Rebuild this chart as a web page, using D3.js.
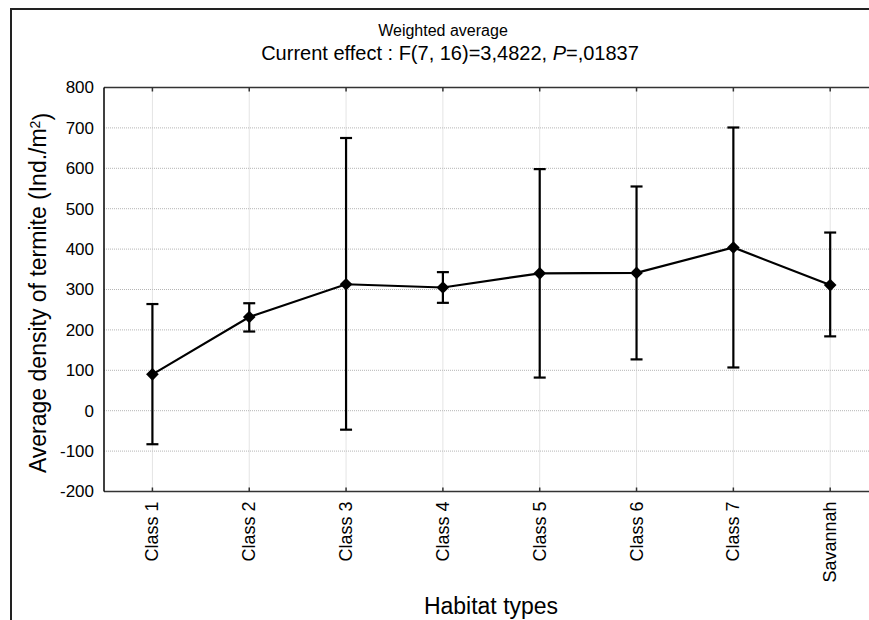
<!DOCTYPE html>
<html>
<head>
<meta charset="utf-8">
<script src="https://cdn.jsdelivr.net/npm/d3@7"></script>
<style>
  body { margin: 0; background: #fff; }
  svg { display: block; font-family: Arial, "Liberation Sans", sans-serif; }
</style>
</head>
<body>
<svg width="869" height="620"></svg>
<script>
// habitat classes on x axis
const categories = ["Class 1", "Class 2", "Class 3", "Class 4", "Class 5", "Class 6", "Class 7", "Savannah"];
// weighted means and the ends of the whiskers (Ind./m2)
const means = [90, 232, 313, 305, 340, 341, 404, 311];
const upper = [264, 266, 675, 343, 598, 555, 701, 441];
const lower = [-83, 196, -47, 267, 82, 127, 107, 184];
const yTicks = [-200, -100, 0, 100, 200, 300, 400, 500, 600, 700, 800];

const data = categories.map((c, i) => ({ cat: c, mean: means[i], hi: upper[i], lo: lower[i] }));

const svg = d3.select("svg"),
  margin = { top: 87.5, left: 104, bottom: 491.5, right: 878.6 };

// outer frame, runs off the bottom and right of the picture
svg.append("rect")
  .attr("x", 11).attr("y", 9)
  .attr("width", 900).attr("height", 700)
  .attr("fill", "none").attr("stroke", "#222").attr("stroke-width", 2);

const x = d3.scalePoint().domain(categories).range([margin.left, margin.right]).padding(0.5);
const y = d3.scaleLinear().domain([-200, 800]).range([margin.bottom, margin.top]);

// dotted grid
svg.append("g").selectAll("line")
  .data(yTicks.slice(1, -1))
  .join("line")
  .attr("x1", margin.left).attr("x2", margin.right)
  .attr("y1", d => y(d)).attr("y2", d => y(d))
  .attr("stroke", "#b5b5b5").attr("stroke-dasharray", "1,1");
svg.append("g").selectAll("line")
  .data(categories)
  .join("line")
  .attr("x1", d => x(d)).attr("x2", d => x(d))
  .attr("y1", margin.top).attr("y2", margin.bottom)
  .attr("stroke", "#c8c8c8").attr("stroke-dasharray", "1,1");

// plot box
svg.append("line").attr("x1", margin.left).attr("x2", margin.right)
  .attr("y1", margin.top).attr("y2", margin.top).attr("stroke", "#333").attr("stroke-width", 1.5);
svg.append("line").attr("x1", margin.left).attr("x2", margin.right)
  .attr("y1", margin.bottom).attr("y2", margin.bottom).attr("stroke", "#333").attr("stroke-width", 1.5);
svg.append("line").attr("x1", margin.left).attr("x2", margin.left)
  .attr("y1", margin.top).attr("y2", margin.bottom).attr("stroke", "#000").attr("stroke-width", 1.5);

// category ticks at top and bottom, pointing inwards
svg.append("g").selectAll("line")
  .data(categories).join("line")
  .attr("x1", d => x(d)).attr("x2", d => x(d))
  .attr("y1", margin.top).attr("y2", margin.top + 4)
  .attr("stroke", "#333").attr("stroke-width", 1.5);
svg.append("g").selectAll("line")
  .data(categories).join("line")
  .attr("x1", d => x(d)).attr("x2", d => x(d))
  .attr("y1", margin.bottom).attr("y2", margin.bottom - 4)
  .attr("stroke", "#333").attr("stroke-width", 1.5);

// y tick labels
svg.append("g").selectAll("text")
  .data(yTicks).join("text")
  .attr("x", 94).attr("y", d => y(d))
  .attr("dy", "0.35em")
  .attr("text-anchor", "end")
  .style("font-size", "17px")
  .text(d => d);

// x tick labels, rotated
svg.append("g").selectAll("text")
  .data(categories).join("text")
  .attr("transform", d => "translate(" + (x(d) + 6) + "," + (margin.bottom + 10) + ") rotate(-90)")
  .attr("text-anchor", "end")
  .style("font-size", "18px")
  .text(d => d);

// error bars
const bars = svg.append("g").attr("stroke", "#000").attr("stroke-width", 2.2);
bars.selectAll(".whisker").data(data).join("line")
  .attr("class", "whisker")
  .attr("x1", d => x(d.cat)).attr("x2", d => x(d.cat))
  .attr("y1", d => y(d.hi)).attr("y2", d => y(d.lo));
bars.selectAll(".capHi").data(data).join("line")
  .attr("class", "capHi")
  .attr("x1", d => x(d.cat) - 6).attr("x2", d => x(d.cat) + 6)
  .attr("y1", d => y(d.hi)).attr("y2", d => y(d.hi));
bars.selectAll(".capLo").data(data).join("line")
  .attr("class", "capLo")
  .attr("x1", d => x(d.cat) - 6).attr("x2", d => x(d.cat) + 6)
  .attr("y1", d => y(d.lo)).attr("y2", d => y(d.lo));

// mean line
const line = d3.line().x(d => x(d.cat)).y(d => y(d.mean));
svg.append("path").datum(data)
  .attr("d", line)
  .attr("fill", "none").attr("stroke", "#000").attr("stroke-width", 2.2);

// diamond markers
svg.append("g").selectAll("path")
  .data(data).join("path")
  .attr("transform", d => "translate(" + x(d.cat) + "," + y(d.mean) + ") rotate(45)")
  .attr("d", d3.symbol(d3.symbolSquare, 80))
  .attr("fill", "#000");

// titles
svg.append("text").attr("x", 443).attr("y", 36)
  .attr("text-anchor", "middle").style("font-size", "16px")
  .text("Weighted average");
const t2 = svg.append("text").attr("x", 450).attr("y", 60)
  .attr("text-anchor", "middle").style("font-size", "20px");
t2.append("tspan").text("Current effect : F(7, 16)=3,4822, ");
t2.append("tspan").style("font-style", "italic").text("P");
t2.append("tspan").text("=,01837");

// axis titles
const yt = svg.append("text")
  .attr("transform", "translate(46,293) rotate(-90)")
  .attr("text-anchor", "middle").style("font-size", "23px");
yt.append("tspan").text("Average density of termite (Ind./m");
yt.append("tspan").attr("dy", "-0.45em").style("font-size", "14px").text("2");
yt.append("tspan").attr("dy", "0.45em").text(")");

svg.append("text").attr("x", 491).attr("y", 614)
  .attr("text-anchor", "middle").style("font-size", "23px")
  .text("Habitat types");
</script>
</body>
</html>
